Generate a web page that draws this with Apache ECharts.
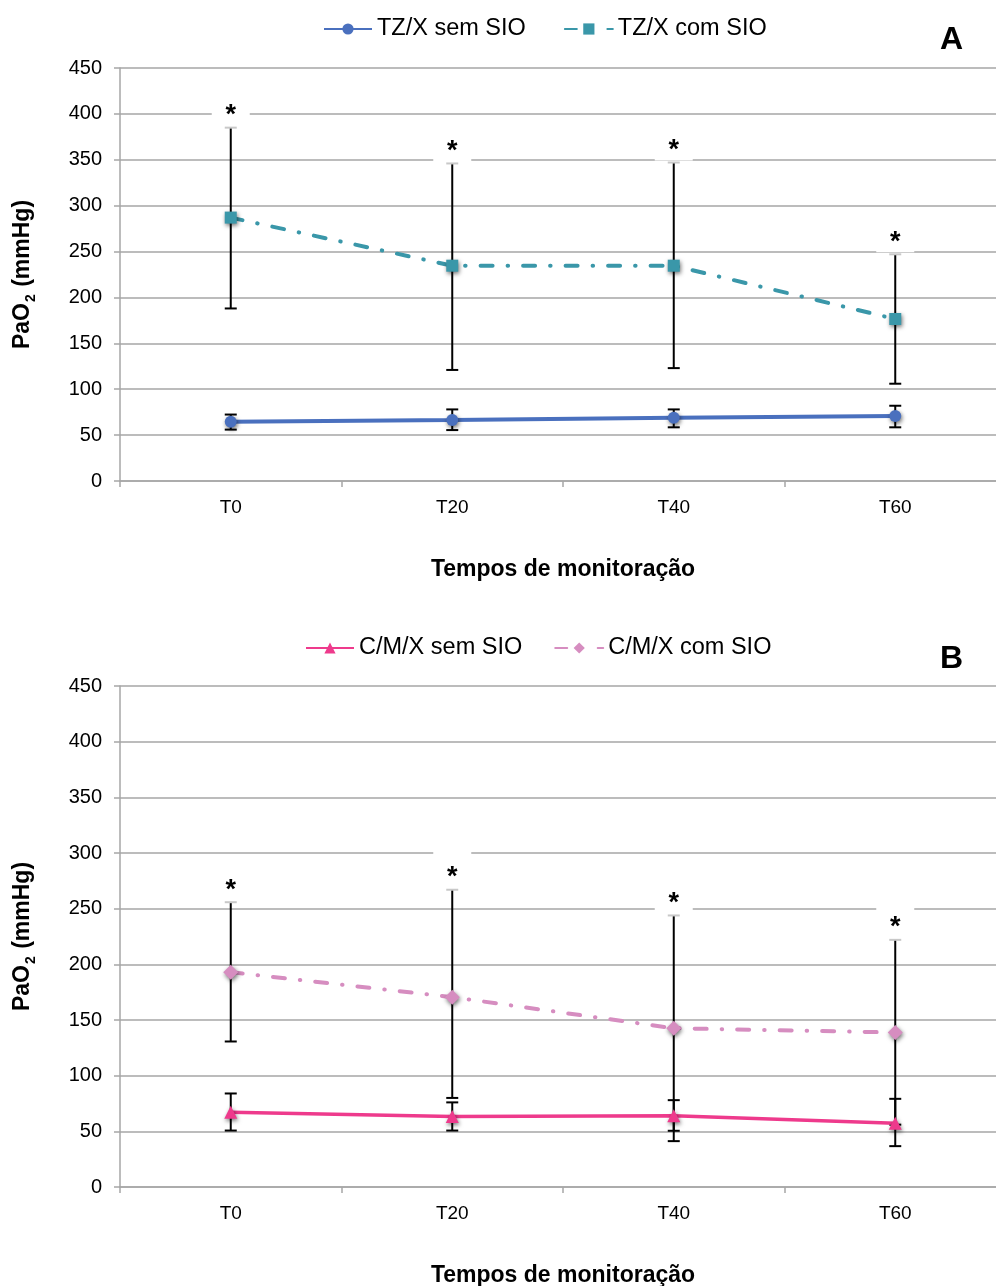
<!DOCTYPE html>
<html><head><meta charset="utf-8">
<script src="https://cdn.jsdelivr.net/npm/echarts@6/dist/echarts.min.js"></script>
<style>html,body{margin:0;padding:0;background:#fff}#c{width:996px;height:1286px}</style>
</head><body><div id="c"></div>
<script>
const categories = ['T0', 'T20', 'T40', 'T60'];
const yMin = 0, yMax = 450, yStep = 50;

// Panel A
const tzSem = [64.6, 66.4, 69, 70.8];
const tzSemLow = [56, 55.5, 58.5, 58.5];
const tzSemHigh = [72.4, 78, 78, 82];
const tzCom = [287, 234.6, 234.6, 176.5];
const tzComLow = [188, 121, 123, 106];
const tzComHigh = [385, 346, 347, 247];

// Panel B
const cmSem = [67.2, 63.3, 64, 57.3];
const cmSemLow = [50.7, 50.7, 50.5, 36.7];
const cmSemHigh = [84, 76, 78, 79.2];
const cmCom = [193, 170.5, 142.6, 138.8];
const cmComLow = [130.7, 80, 41.2, 56];
const cmComHigh = [255.8, 267, 243.9, 222];

const FONT = "'Liberation Sans', Arial, sans-serif";
const GRID_C = '#a6a6a6';

function errData(lo, hi) { return lo.map((v, i) => [i, v, hi[i]]); }

function errRender(withStar) {
  return function (params, api) {
    const x = api.value(0);
    const lo = api.coord([x, api.value(1)]);
    const hi = api.coord([x, api.value(2)]);
    const ch = [];
    if (withStar) {
      ch.push({ type: 'rect', shape: { x: hi[0] - 19, y: hi[1] - 42, width: 38, height: 40 }, style: { fill: '#fff' } });
    }
    ch.push({ type: 'line', shape: { x1: lo[0], y1: lo[1], x2: hi[0], y2: hi[1] }, style: { stroke: '#000', lineWidth: 2 } });
    ch.push({ type: 'line', shape: { x1: lo[0] - 6, y1: lo[1], x2: lo[0] + 6, y2: lo[1] }, style: { stroke: '#000', lineWidth: 2 } });
    ch.push({ type: 'line', shape: { x1: hi[0] - 6, y1: hi[1], x2: hi[0] + 6, y2: hi[1] }, style: { stroke: withStar ? '#c8c8c8' : '#000', lineWidth: 2 } });
    if (withStar) {
      ch.push({ type: 'text', x: hi[0], y: hi[1] - 12, style: { text: '*', fontSize: 27, fontWeight: 'bold', fontFamily: FONT, fill: '#000', align: 'center', verticalAlign: 'middle' } });
    }
    return { type: 'group', children: ch };
  };
}

function xAxisCfg(gi) {
  return {
    type: 'category', gridIndex: gi, data: categories, boundaryGap: true,
    axisLine: { lineStyle: { color: GRID_C, width: 1.5 } },
    axisTick: { show: true, length: 6, lineStyle: { color: GRID_C, width: 1.5 } },
    axisLabel: { fontSize: 19, color: '#000', margin: 17, fontFamily: FONT },
    name: 'Tempos de monitoração', nameLocation: 'middle', nameGap: 77,
    nameTextStyle: { fontSize: 23, fontWeight: 'bold', color: '#000', fontFamily: FONT }
  };
}
function yAxisCfg(gi) {
  return {
    type: 'value', gridIndex: gi, min: yMin, max: yMax, interval: yStep,
    axisLine: { show: true, lineStyle: { color: GRID_C, width: 1.5 } },
    axisTick: { show: true, length: 6, lineStyle: { color: GRID_C, width: 1.5 } },
    splitLine: { lineStyle: { color: GRID_C, width: 1.5 } },
    axisLabel: { fontSize: 20, color: '#000', margin: 18, fontFamily: FONT },
    name: '{b|PaO}{s|2}{b| (mmHg)}', nameLocation: 'middle', nameGap: 82, nameRotate: 90,
    nameTextStyle: {
      color: '#000', fontFamily: FONT,
      rich: {
        b: { fontSize: 23, fontWeight: 'bold', fontFamily: FONT, color: '#000', lineHeight: 30, verticalAlign: 'middle' },
        s: { fontSize: 14, fontWeight: 'bold', fontFamily: FONT, color: '#000', lineHeight: 30, verticalAlign: 'bottom', padding: [0, 1, 0, 1] }
      }
    }
  };
}

const dashDot = [12, 15, 0.5, 15];
const shadow = { shadowBlur: 4, shadowColor: 'rgba(0,0,0,0.55)', shadowOffsetX: 1, shadowOffsetY: 2 };

const option = {
  animation: false,
  backgroundColor: '#fff',
  textStyle: { fontFamily: FONT },
  grid: [
    { left: 120, top: 68, width: 886, height: 413, outerBoundsMode: 'none', containLabel: false },
    { left: 120, top: 686, width: 886, height: 501, outerBoundsMode: 'none', containLabel: false }
  ],
  legend: [
    { top: 12, left: 318, itemWidth: 48, itemHeight: 14, itemGap: 38,
      textStyle: { fontSize: 23.5, color: '#000', fontFamily: FONT },
      data: ['TZ/X sem SIO', 'TZ/X com SIO'] },
    { top: 631, left: 300, itemWidth: 48, itemHeight: 14, itemGap: 32,
      textStyle: { fontSize: 23.5, color: '#000', fontFamily: FONT },
      data: ['C/M/X sem SIO', 'C/M/X com SIO'] }
  ],
  xAxis: [xAxisCfg(0), xAxisCfg(1)],
  yAxis: [yAxisCfg(0), yAxisCfg(1)],
  graphic: [
    { type: 'text', left: 940, top: 24, style: { text: 'A', fontSize: 32, fontWeight: 'bold', fill: '#000', fontFamily: FONT } },
    { type: 'text', left: 940, top: 643, style: { text: 'B', fontSize: 32, fontWeight: 'bold', fill: '#000', fontFamily: FONT } }
  ],
  series: [
    { type: 'custom', name: 'errA1', xAxisIndex: 0, yAxisIndex: 0, z: 1, renderItem: errRender(true), data: errData(tzComLow, tzComHigh), silent: true },
    { type: 'custom', name: 'errA2', xAxisIndex: 0, yAxisIndex: 0, z: 1, renderItem: errRender(false), data: errData(tzSemLow, tzSemHigh), silent: true },
    { type: 'custom', name: 'errB1', xAxisIndex: 1, yAxisIndex: 1, z: 1, renderItem: errRender(true), data: errData(cmComLow, cmComHigh), silent: true },
    { type: 'custom', name: 'errB2', xAxisIndex: 1, yAxisIndex: 1, z: 1, renderItem: errRender(false), data: errData(cmSemLow, cmSemHigh), silent: true },
    { type: 'line', name: 'TZ/X sem SIO', xAxisIndex: 0, yAxisIndex: 0, z: 3, data: tzSem,
      symbol: 'circle', symbolSize: 12, color: '#4A70BE',
      lineStyle: { color: '#4A70BE', width: 4 }, itemStyle: Object.assign({ color: '#4A70BE' }, shadow) },
    { type: 'line', name: 'TZ/X com SIO', xAxisIndex: 0, yAxisIndex: 0, z: 3, data: tzCom,
      symbol: 'rect', symbolSize: 12, color: '#3A97A9',
      lineStyle: { color: '#3A97A9', width: 4, type: dashDot, cap: 'round' }, itemStyle: Object.assign({ color: '#3A97A9' }, shadow) },
    { type: 'line', name: 'C/M/X sem SIO', xAxisIndex: 1, yAxisIndex: 1, z: 3, data: cmSem,
      symbol: 'triangle', symbolSize: 13, color: '#EE3A8C',
      lineStyle: { color: '#EE3A8C', width: 3.5 }, itemStyle: Object.assign({ color: '#EE3A8C' }, shadow) },
    { type: 'line', name: 'C/M/X com SIO', xAxisIndex: 1, yAxisIndex: 1, z: 3, data: cmCom,
      symbol: 'diamond', symbolSize: 15, color: '#D68DC0',
      lineStyle: { color: '#D68DC0', width: 4, type: dashDot, cap: 'round' }, itemStyle: Object.assign({ color: '#D68DC0' }, shadow) }
  ]
};

const chart = echarts.init(document.getElementById('c'), null, { renderer: 'canvas' });
chart.setOption(option);
</script>
</body></html>
